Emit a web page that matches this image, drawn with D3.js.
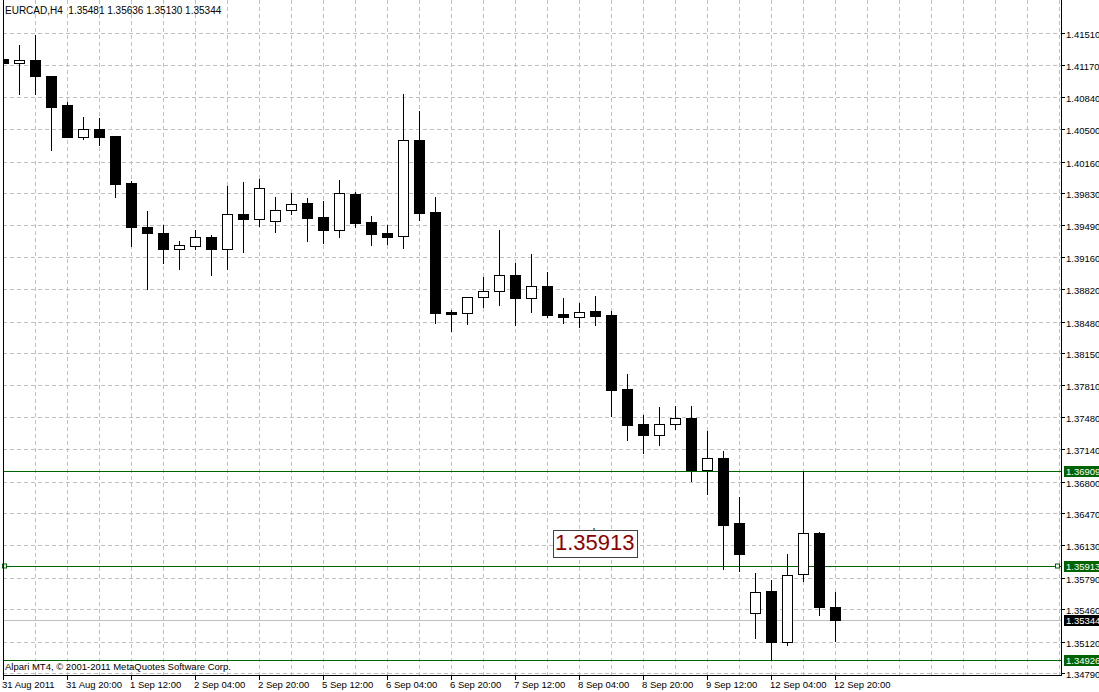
<!DOCTYPE html>
<html>
<head>
<meta charset="utf-8">
<script src="https://cdn.jsdelivr.net/npm/d3@7"></script>
<style>
body{margin:0;background:#fff;}
text{font-family:"Liberation Sans",Arial,sans-serif;}
</style>
</head>
<body>
<div id="vis1"></div>
<script>
// EURCAD H4 bars, oldest first
var opens  = [1.41237,1.41200,1.41227,1.41059,1.40754,1.40421,1.40502,1.40429,1.39935,1.39473,1.39410,1.39245,1.39277,1.39365,1.39245,1.39606,1.39554,1.39533,1.39648,1.39722,1.39578,1.39445,1.39820,1.39526,1.39410,1.39375,1.40383,1.39631,1.38584,1.38573,1.38735,1.38798,1.38966,1.38731,1.38850,1.38556,1.38531,1.38588,1.38546,1.37769,1.37401,1.37292,1.37401,1.37464,1.36925,1.37048,1.36362,1.35417,1.35651,1.35119,1.35826,1.36257,1.35481];
var highs  = [1.41300,1.41384,1.41489,1.41059,1.40789,1.40628,1.40618,1.40429,1.39956,1.39641,1.39494,1.39326,1.39442,1.39389,1.39904,1.39946,1.39977,1.39788,1.39830,1.39778,1.39749,1.39967,1.39841,1.39589,1.39494,1.40866,1.40691,1.39788,1.38602,1.38735,1.38948,1.39442,1.39095,1.39190,1.39001,1.38728,1.38675,1.38749,1.38591,1.37926,1.37496,1.37580,1.37594,1.37594,1.37331,1.37121,1.36638,1.35843,1.35767,1.36040,1.36909,1.36271,1.35636];
var lows   = [1.41143,1.40870,1.40870,1.40282,1.40415,1.40397,1.40334,1.39791,1.39274,1.38825,1.39098,1.39035,1.39245,1.38972,1.39035,1.39214,1.39487,1.39424,1.39613,1.39329,1.39305,1.39371,1.39476,1.39287,1.39295,1.39256,1.39547,1.38468,1.38384,1.38458,1.38633,1.38657,1.38447,1.38584,1.38531,1.38468,1.38426,1.38447,1.37492,1.37240,1.37103,1.37187,1.37355,1.36809,1.36670,1.35885,1.35864,1.35161,1.34926,1.35084,1.35757,1.35402,1.35130];
var closes = [1.41195,1.41227,1.41059,1.40736,1.40418,1.40502,1.40421,1.39925,1.39473,1.39413,1.39245,1.39281,1.39365,1.39245,1.39606,1.39554,1.39879,1.39648,1.39711,1.39571,1.39445,1.39827,1.39518,1.39403,1.39371,1.40383,1.39623,1.38573,1.38563,1.38735,1.38798,1.38966,1.38731,1.38850,1.38552,1.38531,1.38577,1.38542,1.37765,1.37397,1.37292,1.37401,1.37464,1.36925,1.37044,1.36347,1.36043,1.35637,1.35119,1.35816,1.36257,1.35480,1.35344];

// price scale labels (right side)
var priceTicks = [1.41510,1.41170,1.40840,1.40500,1.40160,1.39830,1.39490,1.39160,1.38820,1.38480,1.38150,1.37810,1.37480,1.37140,1.36800,1.36470,1.36130,1.35790,1.35460,1.35120,1.34790];
// time labels, one every 4 bars
var timeLabels = ["31 Aug 2011","31 Aug 20:00","1 Sep 12:00","2 Sep 04:00","2 Sep 20:00","5 Sep 12:00","6 Sep 04:00","6 Sep 20:00","7 Sep 12:00","8 Sep 04:00","8 Sep 20:00","9 Sep 12:00","12 Sep 04:00","12 Sep 20:00"];
// horizontal lines drawn on the chart
var levels = [1.36909,1.35913,1.34926];
var bid = 1.35344;
var textLevel = 1.35913;

var W = 1099, H = 692;
var plotRight = 1061, plotBottom = 675;
var green = "#006400";

var svg = d3.select("#vis1").append("svg").attr("width", W).attr("height", H);

// scales
var x = d3.scaleLinear().domain([0, 52]).range([3, 835]);
var y = d3.scaleLinear().domain([d3.min(priceTicks), d3.max(priceTicks)]).range([673, 33]);
function py(v){ return Math.round(y(v)) + 0.5; }

svg.append("defs").append("clipPath").attr("id","plotClip")
    .append("rect").attr("x",4).attr("y",0).attr("width",plotRight-4).attr("height",plotBottom);

var plot = svg.append("g").attr("clip-path","url(#plotClip)");

// grid
var gridStyle = "stroke:#c0c0c0;stroke-width:1px;stroke-dasharray:4,3;";
for(var i=0;i<priceTicks.length;i++){
    plot.append("line").attr("x1",3).attr("x2",plotRight).attr("y1",py(priceTicks[i])).attr("y2",py(priceTicks[i])).attr("style",gridStyle);}
for(var k=2;k<=66;k+=2){
    plot.append("line").attr("x1",x(k)+0.5).attr("x2",x(k)+0.5).attr("y1",0).attr("y2",plotBottom).attr("style",gridStyle);}

// level lines
plot.append("line").attr("x1",3).attr("x2",plotRight).attr("y1",py(bid)).attr("y2",py(bid)).attr("style","stroke:#c0c0c0;stroke-width:1px;");
levels.forEach(function(v){
    plot.append("line").attr("x1",3).attr("x2",plotRight).attr("y1",py(v)).attr("y2",py(v)).attr("style","stroke:"+green+";stroke-width:1px;");});

// candles
var idx = d3.range(opens.length);
var candles = plot.selectAll("g.candle").data(idx).enter().append("g").attr("class","candle");
candles.append("line")
    .attr("x1",(d) => x(d)+0.5).attr("x2",(d) => x(d)+0.5)
    .attr("y1",(d) => Math.round(y(highs[d]))).attr("y2",(d) => Math.round(y(lows[d]))+1)
    .attr("stroke","#000").attr("stroke-width",1);
candles.append("rect")
    .attr("x",(d) => x(d)-4.5)
    .attr("y",(d) => Math.round(y(Math.max(opens[d],closes[d])))+0.5)
    .attr("width",10)
    .attr("height",function(d){
        var h = Math.round(y(Math.min(opens[d],closes[d]))) - Math.round(y(Math.max(opens[d],closes[d])));
        return Math.max(h,1);})
    .attr("fill",(d) => closes[d] >= opens[d] ? "#fff" : "#000")
    .attr("stroke","#000").attr("stroke-width",1);

// handles on the middle line
[5, 1058].forEach(function(hx){
    svg.append("rect").attr("x",hx-2.5).attr("y",py(textLevel)-2.5).attr("width",4).attr("height",4)
        .attr("fill","#fff").attr("stroke",green).attr("stroke-width",1);});

// text object
svg.append("rect").attr("x",553.5).attr("y",530.5).attr("width",84).attr("height",27)
    .attr("fill","#fff").attr("stroke","#404040").attr("stroke-width",1);
svg.append("rect").attr("x",593).attr("y",528).attr("width",2).attr("height",2).attr("fill","#4f9fa0");
svg.append("text").text(textLevel.toFixed(5)).attr("x",555).attr("y",550)
    .attr("style","font-size:22px;fill:#8b0000;");

// frame
svg.append("line").attr("x1",3.5).attr("x2",3.5).attr("y1",0).attr("y2",plotBottom+1).attr("style","stroke:#000;");
svg.append("line").attr("x1",plotRight+0.5).attr("x2",plotRight+0.5).attr("y1",0).attr("y2",plotBottom+1).attr("style","stroke:#000;");
svg.append("line").attr("x1",3).attr("x2",plotRight+1).attr("y1",plotBottom+0.5).attr("y2",plotBottom+0.5).attr("style","stroke:#000;");

// price axis
for(var i=0;i<priceTicks.length;i++){
    var ty = py(priceTicks[i]);
    svg.append("line").attr("x1",plotRight).attr("x2",plotRight+4).attr("y1",ty).attr("y2",ty).attr("style","stroke:#000;");
    svg.append("text").text(priceTicks[i].toFixed(5)).attr("x",1066).attr("y",ty+4).attr("style","font-size:9.5px;fill:#000;");}

// price boxes on the axis
function priceBox(v, fillCol){
    var by = Math.round(y(v));
    svg.append("rect").attr("x",1064).attr("y",by-5).attr("width",W-1064).attr("height",11).attr("fill",fillCol);
    svg.append("text").text(v.toFixed(5)).attr("x",1066).attr("y",by+4).attr("style","font-size:9.5px;fill:#fff;");}
levels.forEach(function(v){ priceBox(v, green); });
priceBox(bid, "#000");

// time axis
for(var j=0;j<timeLabels.length;j++){
    var tx = x(j*4);
    svg.append("line").attr("x1",tx+0.5).attr("x2",tx+0.5).attr("y1",plotBottom).attr("y2",plotBottom+5).attr("style","stroke:#000;");
    svg.append("text").text(timeLabels[j]).attr("x",tx-1).attr("y",688).attr("style","font-size:9.5px;fill:#000;");}

// header and footer texts
svg.append("text").text("EURCAD,H4  " + [opens[52],highs[52],lows[52],closes[52]].map((v) => v.toFixed(5)).join(" "))
    .attr("x",5).attr("y",14).attr("xml:space","preserve").attr("style","font-size:10px;fill:#000;white-space:pre;");
svg.append("text").text("Alpari MT4, © 2001-2011 MetaQuotes Software Corp.")
    .attr("x",5).attr("y",670).attr("style","font-size:9.5px;fill:#000;");
</script>
</body>
</html>
